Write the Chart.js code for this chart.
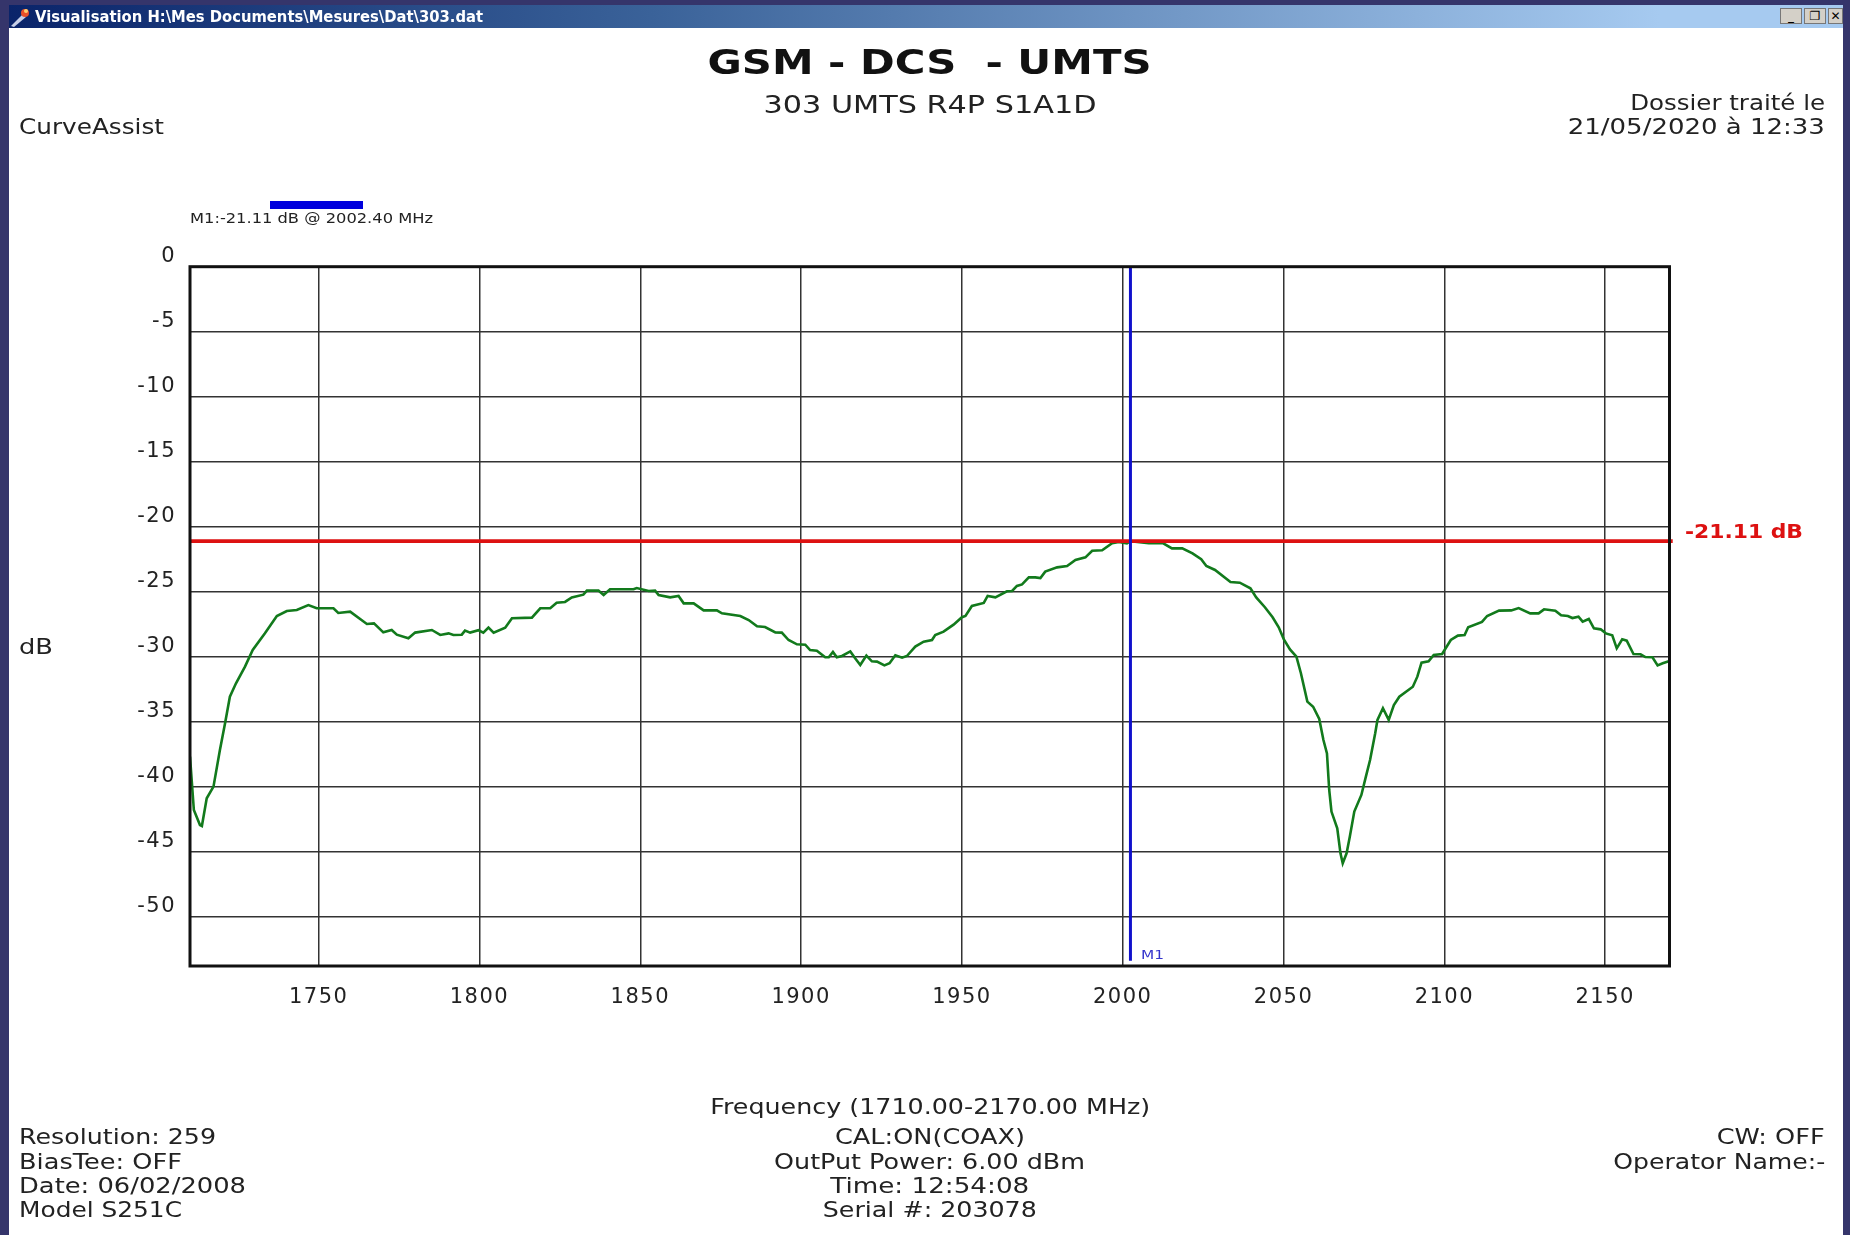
<!DOCTYPE html>
<html lang="fr"><head><meta charset="utf-8"><title>GSM - DCS - UMTS</title>
<script src="https://cdn.jsdelivr.net/npm/chart.js@4"></script>
<style>
html,body{margin:0;padding:0;width:1850px;height:1235px;overflow:hidden;background:#35356b;font-family:"DejaVu Sans",sans-serif}
#bar{position:absolute;left:9px;top:5px;width:1834px;height:23px;background:linear-gradient(90deg,#0a246a 0%,#3a6299 35%,#a6caf0 90%)}
#panel{position:absolute;left:9px;top:28px;width:1834px;height:1207px;background:#fff}
#c{position:absolute;left:0;top:0;display:block}
.t{position:absolute;white-space:pre;line-height:1;color:#222}
.b{position:absolute;top:8px;height:16px;background:#d4d0c8;border:1px solid #777;box-sizing:border-box;color:#000;font:bold 12px/14px "DejaVu Sans";text-align:center;overflow:hidden}
</style></head><body>
<div id="bar"></div><div id="panel"></div>
<svg style="position:absolute;left:9px;top:6px" width="22" height="22" viewBox="0 0 22 22"><path d="M2 20 L14 8 L17 11 L5 21 Z" fill="#c8d0e8"/><circle cx="16" cy="7" r="4" fill="#e8502a"/><circle cx="17" cy="5" r="2" fill="#ffd070"/></svg>
<div class="b" style="left:1780px;width:22px">_</div>
<div class="b" style="left:1804px;width:22px">❐</div>
<div class="b" style="left:1828px;width:15px">✕</div>
<div style="position:absolute;left:270px;top:201px;width:93px;height:8px;background:#0000dd"></div>
<canvas id="c" width="1850" height="1235"></canvas>
<script>
const freqMHz = [1710.0,1710.6,1711.2,1713.1,1713.7,1715.2,1717.3,1719.3,1720.9,1722.4,1724.3,1727.1,1729.5,1733.3,1737.0,1740.1,1743.2,1746.8,1749.4,1754.6,1756.1,1759.8,1765.0,1767.2,1770.1,1772.7,1774.3,1777.9,1780.0,1785.2,1787.8,1790.4,1791.9,1794.5,1795.5,1797.1,1799.7,1801.2,1802.8,1804.4,1808.0,1810.1,1816.3,1818.9,1822.0,1824.0,1826.6,1828.7,1832.3,1833.4,1837.0,1838.6,1840.6,1847.9,1848.9,1852.6,1854.6,1855.7,1859.3,1861.9,1863.5,1866.6,1869.7,1873.8,1875.4,1881.1,1883.7,1886.3,1888.8,1892.0,1894.0,1896.1,1898.7,1901.3,1902.8,1904.9,1907.5,1908.6,1909.9,1911.1,1912.7,1915.3,1916.8,1918.4,1920.3,1922.0,1923.6,1925.9,1927.5,1929.3,1931.4,1932.9,1935.5,1938.1,1940.7,1941.7,1944.3,1947.4,1950.0,1951.1,1953.1,1956.8,1958.0,1960.4,1964.0,1965.6,1967.1,1968.7,1970.8,1972.8,1974.4,1975.9,1979.6,1982.7,1985.3,1988.4,1990.5,1993.6,1996.7,1998.8,2001.3,2002.4,2008.1,2012.6,2015.3,2018.5,2021.7,2024.4,2026.0,2028.7,2033.5,2036.4,2039.7,2041.5,2044.2,2046.6,2048.5,2050.1,2052.0,2054.0,2055.4,2057.4,2059.2,2061.1,2062.4,2063.5,2064.2,2064.9,2066.7,2067.7,2068.4,2069.6,2070.6,2072.0,2074.2,2075.6,2076.9,2078.5,2079.2,2080.9,2082.7,2084.3,2086.0,2090.2,2091.6,2092.9,2095.1,2096.7,2099.3,2102.0,2104.2,2106.3,2107.4,2111.7,2113.3,2117.0,2120.8,2123.1,2126.7,2129.3,2131.0,2134.5,2136.3,2138.4,2139.8,2141.7,2143.0,2144.9,2146.5,2148.6,2150.2,2152.2,2153.6,2155.3,2156.7,2158.8,2161.0,2162.5,2164.7,2166.3,2167.9,2170.0];
const returnLossDb = [-37.69,-39.74,-41.8,-42.95,-43.03,-40.9,-40.0,-37.18,-35.13,-33.08,-32.05,-30.77,-29.49,-28.2,-26.87,-26.49,-26.41,-26.03,-26.28,-26.28,-26.64,-26.54,-27.49,-27.44,-28.13,-27.95,-28.31,-28.59,-28.15,-27.95,-28.33,-28.21,-28.33,-28.31,-28.0,-28.15,-27.97,-28.15,-27.77,-28.15,-27.77,-27.05,-27.0,-26.28,-26.28,-25.85,-25.79,-25.44,-25.23,-24.92,-24.92,-25.26,-24.82,-24.82,-24.72,-24.95,-24.92,-25.26,-25.44,-25.33,-25.9,-25.9,-26.44,-26.44,-26.67,-26.87,-27.18,-27.67,-27.72,-28.13,-28.15,-28.72,-29.05,-29.08,-29.49,-29.54,-30.05,-30.05,-29.64,-30.05,-29.95,-29.6,-30.13,-30.64,-29.92,-30.36,-30.38,-30.67,-30.51,-29.9,-30.08,-29.95,-29.23,-28.85,-28.72,-28.33,-28.08,-27.54,-26.97,-26.87,-26.1,-25.87,-25.33,-25.44,-24.97,-24.95,-24.56,-24.44,-23.9,-23.9,-23.95,-23.46,-23.13,-23.03,-22.56,-22.36,-21.85,-21.82,-21.28,-21.18,-21.28,-21.11,-21.28,-21.28,-21.67,-21.67,-22.05,-22.51,-23.03,-23.33,-24.26,-24.31,-24.74,-25.44,-26.2,-26.97,-27.74,-28.67,-29.44,-30.0,-31.28,-33.46,-33.85,-34.8,-36.41,-37.44,-40.26,-41.92,-43.2,-45.13,-45.9,-45.13,-43.85,-41.92,-40.64,-39.23,-37.95,-35.9,-34.87,-33.97,-34.87,-33.72,-33.08,-32.31,-31.54,-30.46,-30.36,-29.87,-29.8,-28.72,-28.38,-28.33,-27.74,-27.33,-26.87,-26.46,-26.44,-26.26,-26.67,-26.67,-26.36,-26.46,-26.82,-26.87,-27.03,-26.92,-27.31,-27.1,-27.82,-27.9,-28.21,-28.36,-29.36,-28.67,-28.77,-29.8,-29.82,-30.03,-30.05,-30.67,-30.51,-30.33];
const xTickValues = [1750,1800,1850,1900,1950,2000,2050,2100,2150];
const yTickValues = [0,-5,-10,-15,-20,-25,-30,-35,-40,-45,-50];
const markerFreq = 2002.4;
const markerDb = -21.11;
const xRange = [1710,2170];
const yRange = [-53.8,0];

const texts = [
 ["Visualisation H:\\Mes Documents\\Mesures\\Dat\\303.dat",35,17,448,15,"bold","#fff","l"],
 ["GSM - DCS  - UMTS",930,62,444,34,"bold","#111","c"],
 ["303 UMTS R4P S1A1D",930,105,333,24,"normal","#222","c"],
 ["CurveAssist",19,127,145,21,"normal","#222","l"],
 ["Dossier traité le",1825,103,195,21,"normal","#222","r"],
 ["21/05/2020 à 12:33",1825,127,257,21,"normal","#222","r"],
 ["M1:-21.11 dB @ 2002.40 MHz",190,218,243,14,"normal","#222","l"],
 ["dB",19,647,34,21,"normal","#222","l"],
 ["-21.11 dB",1685,531,118,20,"bold","#dd1111","l"],
 ["M1",1141,954,23,13,"normal","#3333cc","l"],
 ["Frequency (1710.00-2170.00 MHz)",930,1107,440,21,"normal","#222","c"],
 ["Resolution: 259",19,1137,197,21,"normal","#222","l"],
 ["BiasTee: OFF",19,1162,163,21,"normal","#222","l"],
 ["Date: 06/02/2008",19,1186,227,21,"normal","#222","l"],
 ["Model S251C",19,1210,163,21,"normal","#222","l"],
 ["CAL:ON(COAX)",930,1137,190,21,"normal","#222","c"],
 ["OutPut Power: 6.00 dBm",930,1162,311,21,"normal","#222","c"],
 ["Time: 12:54:08",930,1186,199,21,"normal","#222","c"],
 ["Serial #: 203078",930,1210,214,21,"normal","#222","c"],
 ["CW: OFF",1825,1137,108,21,"normal","#222","r"],
 ["Operator Name:-",1825,1162,212,21,"normal","#222","r"]
];
for (const [s,x,y,w,size,weight,color,al] of texts){
  const d=document.createElement('div');d.className='t';d.textContent=s;
  d.style.fontSize=size+'px';d.style.fontWeight=weight;d.style.color=color;
  document.body.appendChild(d);
  const m=d.getBoundingClientRect().width, sx=w/m;
  const left = al==='l'?x:al==='r'?x-m:x-m/2;
  d.style.left=left+'px';d.style.top=(y-size/2)+'px';
  d.style.transformOrigin = al==='l'?'left center':al==='r'?'right center':'center center';
  d.style.transform='scaleX('+sx+')';
}

const frame={id:'frame',
 beforeDraw(c){c.ctx.letterSpacing='1.5px';},
 afterDraw(c){const a=c.chartArea,g=c.ctx;g.save();g.strokeStyle='#111';g.lineWidth=3;g.strokeRect(a.left,a.top,a.right-a.left,a.bottom-a.top);g.restore();}};

new Chart(document.getElementById('c'),{
 type:'line',
 data:{datasets:[
  {label:'S11',data:freqMHz.map((f,i)=>({x:f,y:returnLossDb[i]})),borderColor:'#127a1c',borderWidth:2.6,pointRadius:0,tension:0,order:3},
  {label:'Level',data:[{x:xRange[0],y:markerDb},{x:xRange[1]+1,y:markerDb}],borderColor:'#dd1111',borderWidth:3.6,pointRadius:0,order:2,clip:false},
  {label:'M1',data:[{x:markerFreq,y:yRange[1]},{x:markerFreq,y:-53.4}],borderColor:'#1111cc',borderWidth:3,pointRadius:0,order:1}
 ]},
 plugins:[frame],
 options:{responsive:false,animation:false,
  layout:{padding:{left:0,top:266.7,right:180.5,bottom:209}},
  plugins:{legend:{display:false},tooltip:{enabled:false},title:{display:false}},
  scales:{
   x:{type:'linear',min:xRange[0],max:xRange[1],
    afterBuildTicks(s){s.ticks=xTickValues.map(v=>({value:v}));},
    afterFit(s){s.height=60;},
    grid:{color:'#333',lineWidth:1.5,drawTicks:false},border:{display:false},
    ticks:{autoSkip:false,maxRotation:0,padding:19,color:'#222',font:{family:'"DejaVu Sans"',size:21},callback:v=>String(v)}},
   y:{type:'linear',min:yRange[0],max:yRange[1],
    afterBuildTicks(s){s.ticks=yTickValues.map(v=>({value:v}));},
    afterFit(s){s.width=190;},
    grid:{color:'#333',lineWidth:1.5,drawTicks:false},border:{display:false},
    ticks:{autoSkip:false,padding:14,labelOffset:-10,color:'#222',font:{family:'"DejaVu Sans"',size:21},callback:v=>String(v)}}
  }
 }
});
</script>
</body></html>
